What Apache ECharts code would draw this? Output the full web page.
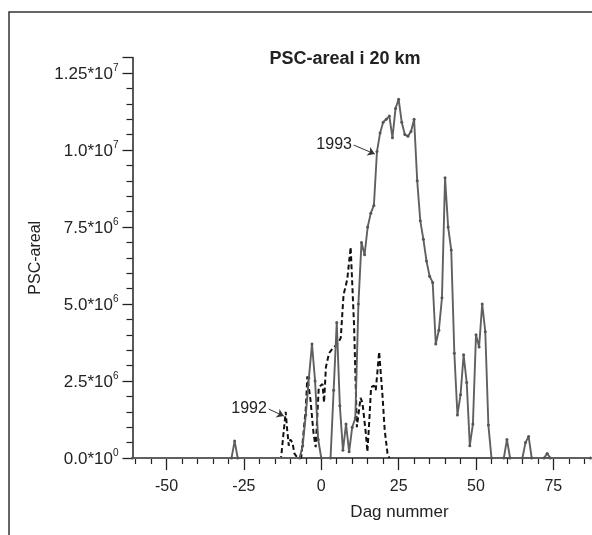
<!DOCTYPE html>
<html>
<head>
<meta charset="utf-8">
<script src="https://cdn.jsdelivr.net/npm/echarts@6/dist/echarts.min.js"></script>
<style>
html,body{margin:0;padding:0;background:#fff;}
#chart{width:592px;height:535px;}
</style>
</head>
<body>
<div id="chart"></div>
<script>
// ---- data (PSC area, day number) ----
const days1993 = [-61, -29, -28, -27, -7, -6, -5, -4, -3, -2, -1, 0, 3, 4, 5, 6, 7, 8, 9, 10,
  11, 12, 13, 14, 15, 16, 17, 18, 19, 20, 21, 22, 23, 24, 25, 26, 27, 28, 29, 30,
  31, 32, 33, 34, 35, 36, 37, 38, 39, 40, 41, 42, 43, 44, 45, 46, 47, 48, 49, 50,
  51, 52, 53, 54, 55, 59, 60, 61, 65, 66, 67, 68, 72, 73, 74, 87];
const areal1993 = [0, 0, 0.55e6, 0, 0, 0.4e6, 1.4e6, 2.6e6, 3.7e6, 2.5e6, 0.6e6, 0, 0, 2.2e6, 4.4e6, 1.7e6, 0.25e6, 1.1e6, 0.2e6, 1.0e6,
  1.3e6, 5.0e6, 7.0e6, 6.6e6, 7.5e6, 7.95e6, 8.2e6, 9.95e6, 10.55e6, 10.9e6, 11.0e6, 11.1e6, 10.4e6, 11.35e6, 11.65e6, 10.9e6, 10.5e6, 10.45e6, 10.6e6, 11.0e6,
  9.0e6, 7.7e6, 7.1e6, 6.4e6, 5.9e6, 5.7e6, 3.7e6, 4.15e6, 5.2e6, 9.1e6, 7.5e6, 6.75e6, 3.4e6, 1.4e6, 2.05e6, 3.35e6, 2.45e6, 0.4e6, 1.1e6, 4.0e6,
  3.6e6, 5.0e6, 4.1e6, 1.07e6, 0, 0, 0.6e6, 0, 0, 0.5e6, 0.7e6, 0, 0, 0.15e6, 0, 0];

const days1992 = [-14, -13, -11.5, -11, -10.5, -10, -9.3, -8.7, -8, -6.5, -5, -4.5, -3.5, -2.5, -1.8, -0.8, 0.4, 0.9, 1.5, 2.5,
  3.6, 5.2, 6.3, 7.2, 8.4, 9.5, 10.6, 11.5, 12.7, 13.3, 14.4, 14.9, 15.4, 16.1, 17, 17.6, 18.1, 18.7, 19.8, 20.5, 21.4, 22];
const areal1992 = [0, 0, 1.5e6, 0.9e6, 0.4e6, 0.6e6, 0.5e6, 0.15e6, 0.05e6, 0, 1.6e6, 2.65e6, 1.9e6, 0.8e6, 0.35e6, 2.3e6, 2.4e6, 1.8e6, 2.95e6, 3.4e6,
  3.55e6, 3.7e6, 3.9e6, 5.3e6, 5.8e6, 6.85e6, 4.3e6, 1.0e6, 1.95e6, 1.8e6, 0.8e6, 0.2e6, 1.0e6, 2.3e6, 2.35e6, 2.2e6, 2.75e6, 3.45e6, 2.0e6, 0.9e6, 0.15e6, 0];

// ---- ticks and labels ----
const xMajorTicks = [-50, -25, 0, 25, 50, 75];
const xMinorTicks = [-60, -55, -45, -40, -35, -30, -20, -15, -10, -5, 5, 10, 15, 20, 30, 35, 40, 45, 55, 60, 65, 70, 80, 85];
const yMajorTicks = [0, 2.5e6, 5e6, 7.5e6, 1e7, 1.25e7, 1.3e7];
const yMinorTicks = [0.5e6, 1e6, 1.5e6, 2e6, 3e6, 3.5e6, 4e6, 4.5e6, 5.5e6, 6e6, 6.5e6, 7e6, 8e6, 8.5e6, 9e6, 9.5e6, 10.5e6, 11e6, 11.5e6, 12e6];
const yLabelMantissa = ['0.0', '2.5', '5.0', '7.5', '1.0', '1.25', ''];
const yLabelExponent = ['0', '6', '6', '6', '7', '7', ''];

// ---- annotation arrows (data coordinates) ----
const arrow1993 = [[10.5, 10.16e6], [17.3, 9.87e6]];
const arrow1992 = [[-17.0, 1.59e6], [-12.1, 1.36e6]];

const FONT = 'Liberation Sans, Arial, Helvetica, sans-serif';
const INK = '#222';

const chart = echarts.init(document.getElementById('chart'), null, {renderer: 'canvas'});

const option = {
  backgroundColor: '#ffffff',
  animation: false,
  title: {
    text: 'PSC-areal i 20 km',
    left: 340,
    top: 45,
    textAlign: 'center',
    textStyle: {fontFamily: FONT, fontSize: 18, fontWeight: 'bold', color: INK}
  },
  graphic: [{
    type: 'polyline',
    shape: {points: [[9, 535], [9, 12], [592, 12]]},
    style: {stroke: '#333', lineWidth: 1.5, fill: null},
    silent: true
  }],
  grid: {left: 132.5, right: 1.5, top: 57.6, bottom: 77, containLabel: false},
  xAxis: [{
    type: 'value', min: -61, max: 87, position: 'bottom',
    axisLine: {show: true, onZero: false, lineStyle: {color: '#222', width: 1.5}},
    axisTick: {show: true, customValues: xMajorTicks, length: 12, lineStyle: {color: '#222', width: 1.3}},
    axisLabel: {show: true, customValues: xMajorTicks, margin: 21, fontFamily: FONT, fontSize: 16, color: INK,
      formatter: v => String(v)},
    splitLine: {show: false},
    name: 'Dag nummer', nameLocation: 'middle', nameGap: 46,
    nameTextStyle: {fontFamily: FONT, fontSize: 17, color: INK, padding: [0, 0, 0, 76]}
  }, {
    type: 'value', min: -61, max: 87, position: 'bottom', offset: 0,
    axisLine: {show: false, onZero: false},
    axisTick: {show: true, customValues: xMinorTicks, length: 6, lineStyle: {color: '#222', width: 1.2}},
    axisLabel: {show: false},
    splitLine: {show: false}
  }],
  yAxis: [{
    type: 'value', min: 0, max: 1.3e7, position: 'left',
    axisLine: {show: true, onZero: false, lineStyle: {color: '#222', width: 1.5}},
    axisTick: {show: true, customValues: yMajorTicks, length: 10, lineStyle: {color: '#222', width: 1.3}},
    axisLabel: {
      show: true, customValues: yMajorTicks.slice(0, 6), margin: 14,
      formatter: v => {
        const i = yMajorTicks.indexOf(v);
        return '{m|' + yLabelMantissa[i] + '*10}{s|' + yLabelExponent[i] + '}';
      },
      rich: {
        m: {fontFamily: FONT, fontSize: 17, color: INK, lineHeight: 19, verticalAlign: 'bottom'},
        s: {fontFamily: FONT, fontSize: 10, color: INK, lineHeight: 10, verticalAlign: 'top'}
      }
    },
    splitLine: {show: false},
    name: 'PSC-areal', nameLocation: 'middle', nameGap: 89, nameRotate: 90,
    nameTextStyle: {fontFamily: FONT, fontSize: 16, color: INK}
  }, {
    type: 'value', min: 0, max: 1.3e7, position: 'left', offset: 0,
    axisLine: {show: false, onZero: false},
    axisTick: {show: true, customValues: yMinorTicks, length: 6, lineStyle: {color: '#222', width: 1.2}},
    axisLabel: {show: false},
    splitLine: {show: false}
  }],
  series: [{
    name: '1992', type: 'line', xAxisIndex: 0, yAxisIndex: 0,
    data: days1992.map((d, i) => [d, areal1992[i]]),
    symbol: 'none',
    lineStyle: {color: '#111', width: 2, type: [5, 3]},
    z: 3,
    markLine: {
      silent: true, symbol: ['none', 'arrow'], symbolSize: 7,
      lineStyle: {type: 'solid', color: '#333', width: 1},
      label: {show: true, position: 'start', distance: 2, formatter: '1992', fontFamily: FONT, fontSize: 16, color: INK},
      data: [[{coord: arrow1992[0]}, {coord: arrow1992[1]}]]
    }
  }, {
    name: '1993', type: 'line', xAxisIndex: 0, yAxisIndex: 0,
    data: days1993.map((d, i) => [d, areal1993[i]]),
    symbol: 'circle', symbolSize: 3, showSymbol: true,
    itemStyle: {color: '#555'},
    lineStyle: {color: '#606060', width: 1.9},
    z: 4,
    markLine: {
      silent: true, symbol: ['none', 'arrow'], symbolSize: 7,
      lineStyle: {type: 'solid', color: '#333', width: 1},
      label: {show: true, position: 'start', distance: 2, formatter: '1993', fontFamily: FONT, fontSize: 16, color: INK},
      data: [[{coord: arrow1993[0]}, {coord: arrow1993[1]}]]
    }
  }]
};

chart.setOption(option);
</script>
</body>
</html>
